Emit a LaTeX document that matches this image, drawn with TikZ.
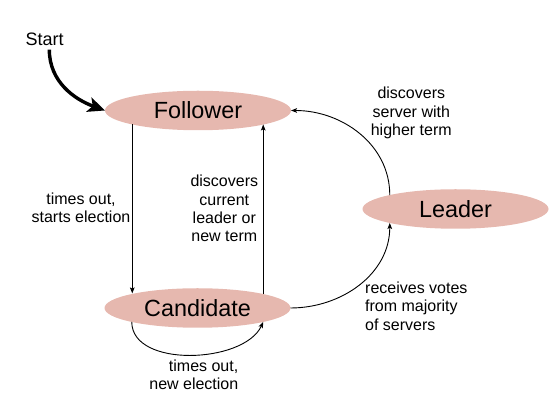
\documentclass[tikz,border=0pt]{standalone}
\usepackage{fontspec}
\setmainfont{Liberation Sans}
\usetikzlibrary{shapes.geometric,arrows.meta}
\definecolor{statefill}{HTML}{E6B8AF}
\tikzset{
  state/.style={ellipse, fill=statefill, minimum width=186pt, minimum height=39.5pt,
    inner sep=0pt, outer sep=0pt, font=\fontsize{23.4}{28}\selectfont},
  lbl/.style={inner sep=0pt, align=center, font=\fontsize{16}{18.4}\selectfont},
  arr/.style={line width=0.9pt, -{Stealth[length=6pt,width=4.6pt,inset=1.2pt]}},
  startarr/.style={line width=3.4pt, -{Stealth[length=17pt,width=15pt,inset=4pt]}}
}
\begin{document}
\begin{tikzpicture}[x=1pt,y=1pt]
\useasboundingbox (0,0) rectangle (558,404);
\node[state] (F) at (198,293.5) {Follower};
\node[state] (C) at (197.5,96) {Candidate};
\node[state] (L) at (455.5,195) {Leader};
\node[inner sep=0pt, font=\fontsize{18}{21}\selectfont] (start) at (44.7,364.5) {Start};
\node[lbl] (l1) at (81,196) {times out,\\starts election};
\node[lbl] (l2) at (224.3,195.5) {discovers\\current\\leader or\\new term};
\node[lbl] (l3) at (411.3,291) {discovers\\server with\\higher term};
\node[lbl, align=left, anchor=west] (l4) at (365,98) {receives votes\\from majority\\of servers};
\node[lbl, align=right, anchor=east] (l5) at (238.5,29) {times out,\\new election};
\draw[startarr] ([shift={(4.6pt,-3.5pt)}]start.south) to[out=-90,in=160] (F.west);
\draw[arr] (F.192.3) -- (F.192.3 |- C.167.5);
\draw[arr] (C.12.3) -- (C.12.3 |- F.-12);
\draw[arr] (C.east) to[out=0,in=-90] (L.192);
\draw[arr] (L.168) to[out=90,in=0] (F.east);
\draw[arr] (C.192.3) to[out=-90,in=-115,looseness=0.9] (C.-12.3);
\end{tikzpicture}
\end{document}
